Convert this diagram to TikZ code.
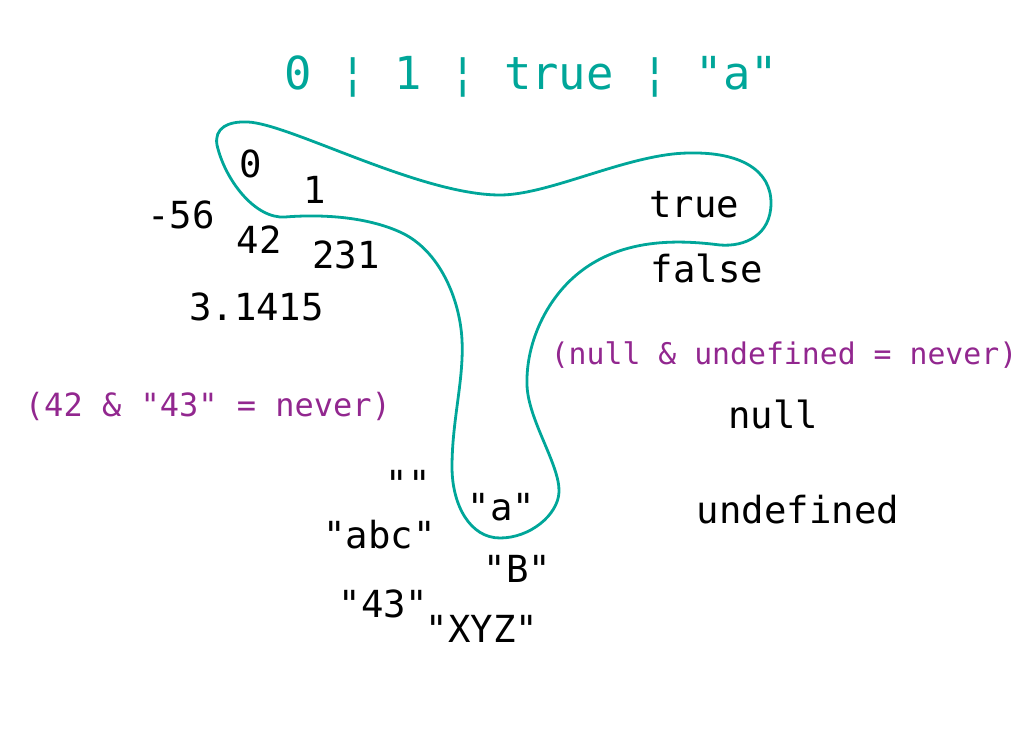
\documentclass[tikz,border=0pt]{standalone}
\usepackage{fontspec}
\setmonofont{DejaVu Sans Mono}
\usetikzlibrary{positioning}
\definecolor{tealc}{RGB}{0,166,153}
\definecolor{purplec}{RGB}{146,39,143}

\begin{document}
\begin{tikzpicture}[x=1pt, y=-1pt, inner sep=0pt,
  val/.style={anchor=base, font=\ttfamily\fontsize{37.3}{44}\selectfont},
  hdr/.style={anchor=base, text=tealc, font=\ttfamily\fontsize{45.5}{54}\selectfont},
  note/.style={anchor=base, text=purplec, font=\ttfamily\fontsize{29.8}{35}\selectfont},
  blob/.style={draw=tealc, line width=2.8pt}]

\useasboundingbox (0,0) rectangle (1032,730);

\node [hdr] (union) at (531.5,90) {0 ¦ 1 ¦ true ¦ "a"};

\node [val] (n_0) at (251,178) {0};
\node [val] (n_1) at (315,203) {1};
\node [val] (n_m56) at (181,228) {-56};
\node [val] (n_42) at (259,253) {42};
\node [val] (n_231) at (346,268) {231};
\node [val] (n_pi) at (256.5,320) {3.1415};

\node [val] (b_t) at (694,217) {true};
\node [val] (b_f) at (707,282) {false};

\node [note] (nb_null) at (784,364) {(null \& undefined = never)};
\node [note, font=\ttfamily\fontsize{32}{38}\selectfont] (nb_num) at (208,416) {(42 \& "43" = never)};

\node [val] (u_null) at (773,428) {null};
\node [val] (u_undef) at (798,523) {undefined};

\node [val] (s_empty) at (408,497) {""};
\node [val] (s_a) at (501.5,520) {"a"};
\node [val] (s_abc) at (379.5,548) {"abc"};
\node [val] (s_B) at (517.5,582) {"B"};
\node [val] (s_43) at (383.5,617) {"43"};
\node [val] (s_XYZ) at (482,642) {"XYZ"};

% the set 0 | 1 | true | "a"
\draw [blob] (217,145)
  .. controls (214,128) and (228,121) .. (248,122)
  .. controls (290,124) and (420,195) .. (500,195)
  .. controls (550,195) and (630,153) .. (690,153)
  .. controls (740,152) and (771,170) .. (771,203)
  .. controls (771,235) and (745,247) .. (720,245)
  .. controls (680,240) and (610,235) .. (563,288)
  .. controls (540,314) and (526,350) .. (527,385)
  .. controls (528,420) and (560,465) .. (559,492)
  .. controls (558,515) and (530,538) .. (500,538)
  .. controls (470,538) and (452,505) .. (452,467)
  .. controls (452,420) and (464,380) .. (462,340)
  .. controls (460,300) and (440,250) .. (400,232)
  .. controls (360,214) and (310,215) .. (285,217)
  .. controls (255,219) and (225,180) .. cycle;

\end{tikzpicture}
\end{document}
